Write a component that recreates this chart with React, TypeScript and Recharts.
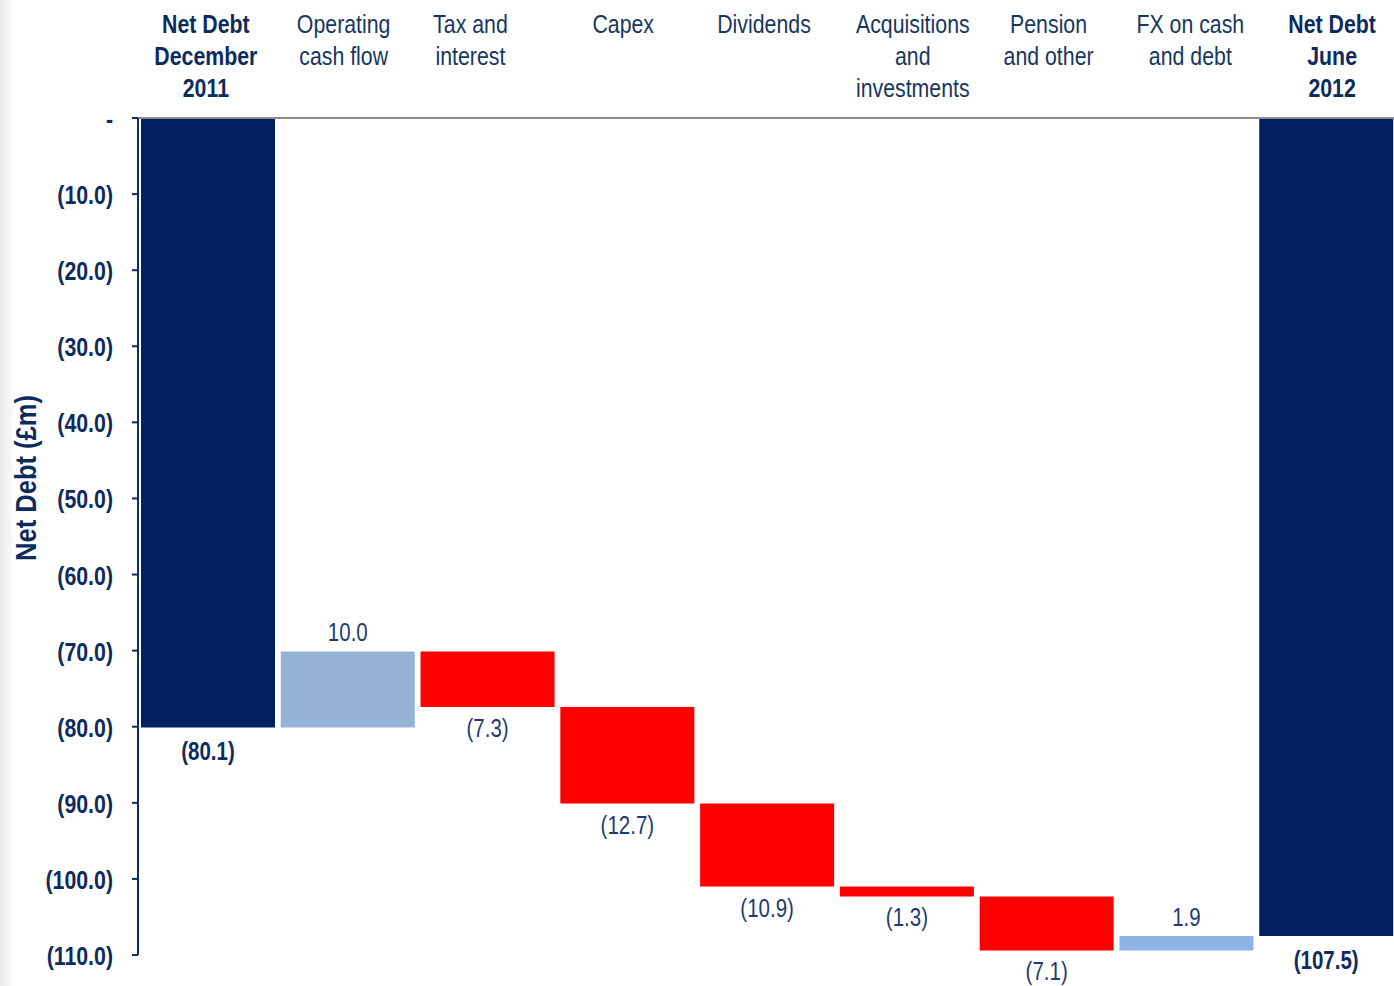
import React from 'react';
import { BarChart, Bar, XAxis, YAxis, Cell, LabelList } from 'recharts';

const categoryLines: string[][] = [
  ['Net Debt', 'December', '2011'],
  ['Operating', 'cash flow'],
  ['Tax and', 'interest'],
  ['Capex'],
  ['Dividends'],
  ['Acquisitions', 'and', 'investments'],
  ['Pension', 'and other'],
  ['FX on cash', 'and debt'],
  ['Net Debt', 'June', '2012'],
];
const categories = categoryLines.map((l) => l.join(' '));
const changes = [-80.1, 10.0, -7.3, -12.7, -10.9, -1.3, -7.1, 1.9, -107.5];
const kinds = ['total', 'increase', 'decrease', 'decrease', 'decrease', 'decrease', 'decrease', 'increase', 'total'];
const barColors = ['#002060', '#95B3D7', '#FF0000', '#FF0000', '#FF0000', '#FF0000', '#FF0000', '#8DB4E2', '#002060'];
const yTicks = [0, -10, -20, -30, -40, -50, -60, -70, -80, -90, -100, -110];

// layout: small horizontal nudges of the header text boxes (px)
const headerShift = [-2, -4, -17, -4, -3, 6, 2, 4, 6];

const FONT = "'Liberation Sans', Arial, sans-serif";
const NARROW = 0.82;
const NAVY = '#0E2B5E';
const TEXT = '#17375E';

const fmt = (v: number) => (v === 0 ? '-' : v < 0 ? `(${Math.abs(v).toFixed(1)})` : v.toFixed(1));

let running = 0;
const data = categories.map((name, i) => {
  const d = changes[i];
  let range: [number, number];
  if (kinds[i] === 'total') {
    range = [d, 0];
    running = d;
  } else {
    const start = running;
    const end = running + d;
    range = [Math.min(start, end), Math.max(start, end)];
    running = end;
  }
  return { name, range, change: d };
});

const NText = (p: {
  x: number;
  y: number;
  anchor?: 'start' | 'middle' | 'end';
  size: number;
  weight?: number;
  fill: string;
  rotate?: number;
  narrow?: number;
  children: React.ReactNode;
}) => (
  <g transform={`translate(${p.x},${p.y}) rotate(${p.rotate || 0}) scale(${p.narrow || NARROW},1)`}>
    <text x={0} y={0} textAnchor={p.anchor || 'middle'} fontFamily={FONT} fontSize={p.size} fontWeight={p.weight || 400} fill={p.fill}>
      {p.children}
    </text>
  </g>
);

const XTick = (props: any) => {
  const { x, index } = props;
  const lines = categoryLines[index] || [];
  const bold = kinds[index] === 'total';
  const cx = x + (headerShift[index] || 0);
  return (
    <g>
      {lines.map((l, i) => (
        <NText key={i} x={cx} y={33 + i * 32} size={26} weight={bold ? 700 : 400} fill={bold ? NAVY : TEXT}>
          {l}
        </NText>
      ))}
    </g>
  );
};

const YTick = (props: any) => {
  const { x, y, payload } = props;
  return (
    <NText x={x} y={y + 10} anchor="end" size={26} weight={700} fill={NAVY}>
      {fmt(payload.value)}
    </NText>
  );
};

const BarLabel = (props: any) => {
  const { x, y, width, height, index } = props;
  const top = Math.min(y, y + height);
  const bottom = Math.max(y, y + height);
  const kind = kinds[index];
  const above = kind === 'increase';
  const bold = kind === 'total';
  return (
    <NText
      x={x + width / 2}
      y={above ? top - 10 : bottom + (bold ? 33 : 30)}
      size={25}
      weight={bold ? 700 : 400}
      fill={bold ? NAVY : '#1F3A6E'}
    >
      {fmt(changes[index])}
    </NText>
  );
};

const YTitle = (props: any) => {
  const { viewBox } = props;
  const cx = 36;
  const cy = viewBox.y + 360;
  return (
    <NText x={cx} y={cy} rotate={-90} size={29} weight={700} fill={NAVY} narrow={0.88}>
      Net Debt (£m)
    </NText>
  );
};

export default function App() {
  return (
    <div style={{ position: 'absolute', left: 0, top: 0, width: 1394, height: 986, background: '#fff', overflow: 'hidden' }}>
      <div
        style={{
          position: 'absolute',
          left: 0,
          top: 0,
          width: 12,
          height: 986,
          background: 'linear-gradient(to right, #ececec, #f8f8f8)',
        }}
      />
      <div style={{ position: 'absolute', left: 0, top: 0 }}>
        <BarChart
          width={1396}
          height={986}
          data={data}
          margin={{ top: 0, right: 0, bottom: 31, left: 0 }}
          barCategoryGap={3}
        >
          <XAxis
            dataKey="name"
            orientation="top"
            height={118}
            axisLine={{ stroke: '#8C8C8C', strokeWidth: 2 }}
            tickLine={false}
            tick={<XTick />}
            interval={0}
          />
          <YAxis
            type="number"
            domain={[-110, 0]}
            ticks={yTicks}
            interval={0}
            width={138}
            axisLine={{ stroke: NAVY, strokeWidth: 2 }}
            tickLine={{ stroke: NAVY, strokeWidth: 2 }}
            tickSize={6}
            tickMargin={19}
            tick={<YTick />}
            label={<YTitle />}
          />
          <Bar dataKey="range" isAnimationActive={false}>
            {data.map((d, i) => (
              <Cell key={i} fill={barColors[i]} />
            ))}
            <LabelList dataKey="range" content={<BarLabel />} />
          </Bar>
        </BarChart>
      </div>
    </div>
  );
}
